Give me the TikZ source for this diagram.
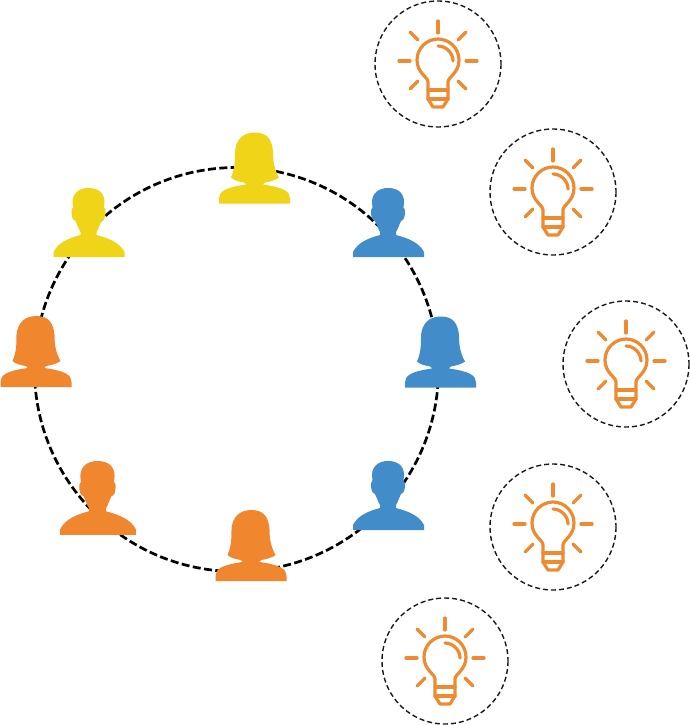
\documentclass[tikz,border=0pt]{standalone}
\definecolor{pyellow}{HTML}{F0D418}
\definecolor{pblue}{HTML}{438CCA}
\definecolor{porange}{HTML}{F0862E}
\definecolor{bulbc}{HTML}{EE8A2F}
\tikzset{
  ring/.style={draw=black,line width=2.7pt,dash pattern=on 8pt off 3.4pt},
  halo/.style={draw=black!90,line width=1.4pt,dash pattern=on 5pt off 3pt},
  bulbline/.style={draw=bulbc,line width=3.2pt,line cap=round,line join=round},
  woman/.pic={
    \fill[pic actions] (0,71) -- (0,66) .. controls (0,59) and (6,55) .. (27,52)
      .. controls (26,51) and (26,50) .. (25,50)
      .. controls (20,49) and (15,48) .. (12,45)
      .. controls (16,36) and (16,28) .. (16,19)
      .. controls (17,7) and (24,0) .. (36,0)
      .. controls (48,0) and (53,7) .. (54,19)
      .. controls (54,28) and (55,36) .. (60,45)
      .. controls (56,48) and (51,49) .. (46,50)
      .. controls (45,50) and (45,51) .. (44,52)
      .. controls (65,55) and (71,59) .. (71,66) -- (71,71) -- cycle;
  },
  man/.pic={
    \fill[pic actions] (0,69) -- (0,64) .. controls (5,54) and (16,50) .. (27,47)
      -- (27,44) .. controls (25,41) and (24,37) .. (22,33)
      .. controls (19,32) and (18,29) .. (18,23)
      .. controls (18,21) and (19,20) .. (19.5,20)
      -- (19,14) .. controls (19,5) and (26,0) .. (35,0)
      .. controls (45,0) and (51,5) .. (51,14)
      -- (50.5,20) .. controls (51,20) and (52,21) .. (52,23)
      .. controls (52,29) and (51,32) .. (48,33)
      .. controls (46,37) and (45,41) .. (43,44)
      -- (43,47) .. controls (54,50) and (66,54) .. (71,64) -- (71,69) -- cycle;
  },
  bulb/.pic={
    \draw[halo] (0,0) circle[radius=63];
    \draw[bulbline] (0,-43) -- (0,-31);
    \draw[bulbline] (-39,-3) -- (-28,-3);
    \draw[bulbline] (39,-3) -- (28,-3);
    \draw[bulbline] (-28,-32) -- (-20,-24);
    \draw[bulbline] (28,-32) -- (20,-24);
    \draw[bulbline] (-28,25) -- (-20,17);
    \draw[bulbline] (28,25) -- (20,17);
    \draw[bulbline] (-10,35) -- (-10,18) .. controls (-10,13) and (-21,9) .. (-21,-4)
      .. controls (-21,-16) and (-11,-25) .. (0,-25)
      .. controls (11,-25) and (21,-16) .. (21,-4)
      .. controls (21,9) and (10,13) .. (10,18) -- (10,35)
      -- (5,43) -- (-5,43) -- cycle;
    \draw[bulbline] (-10,26) -- (10,26);
    \draw[bulbline] (-10,35) -- (10,35);
    \draw[bulbline] (0,-18) .. controls (8,-18) and (15,-11) .. (15,-3);
  }
}
\begin{document}
\begin{tikzpicture}[x=1pt,y=-1pt]
\useasboundingbox (0,0) rectangle (690,725);
\draw[ring] (236.5,369.5) circle[radius=202];
\pic[fill=pyellow] at (219,132.5) {woman};
\pic[fill=pyellow] at (53.5,188) {man};
\pic[fill=pblue] at (353,188) {man};
\pic[fill=pblue] at (405,316.5) {woman};
\pic[fill=pblue] at (353,461) {man};
\pic[fill=porange,scale=1.07] at (60,461) {man};
\pic[fill=porange] at (215.5,510) {woman};
\pic[fill=porange] at (0.5,316) {woman};
\pic at (438,64) {bulb};
\pic at (553,192) {bulb};
\pic at (626,364) {bulb};
\pic at (553,527) {bulb};
\pic at (445,661) {bulb};
\end{tikzpicture}
\end{document}
